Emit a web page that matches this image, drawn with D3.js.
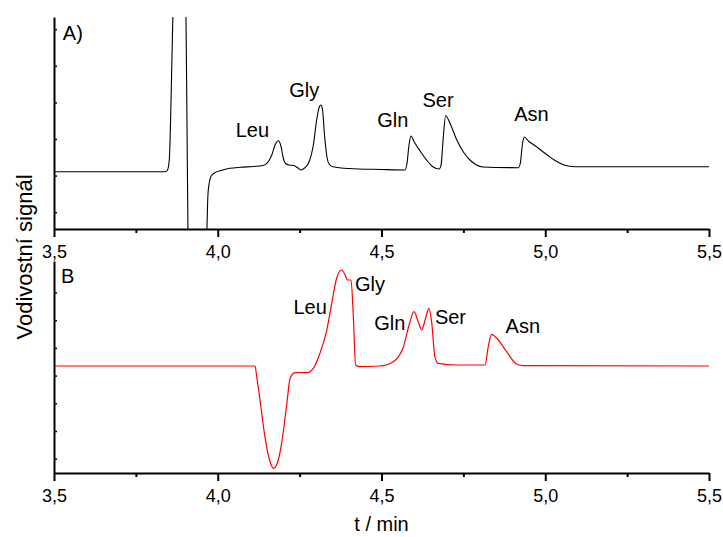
<!DOCTYPE html>
<html>
<head>
<meta charset="utf-8">
<script src="https://cdn.jsdelivr.net/npm/d3@7"></script>
<style>
  body { margin: 0; background: #fff; }
  svg { display: block; }
  text { font-family: "Liberation Sans", Arial, Helvetica, sans-serif; fill: #000; }
</style>
</head>
<body>
<svg id="chart" width="723" height="537"></svg>
<script>
// ---- data: conductivity traces (arbitrary signal units) ----
// Panel A (black trace)
const timesA = [3.500, 3.840, 3.846, 3.852, 3.856, 3.860, 3.864, 3.872, 3.884, 3.896, 3.900, 3.903, 3.906, 3.909,
  3.915, 3.935, 3.958, 3.967, 3.970, 3.974, 3.980, 3.990, 4.010, 4.037, 4.070, 4.110, 4.138, 4.150, 4.165, 4.175,
  4.185, 4.193, 4.200, 4.207, 4.218, 4.232, 4.245, 4.254, 4.265, 4.280, 4.292, 4.302, 4.310, 4.315, 4.320, 4.326,
  4.334, 4.340, 4.352, 4.400, 4.500, 4.572, 4.578, 4.584, 4.590, 4.600, 4.620, 4.640, 4.658, 4.676, 4.682, 4.688,
  4.696, 4.710, 4.730, 4.750, 4.770, 4.790, 4.810, 4.850, 4.918, 4.924, 4.930, 4.936, 4.950, 4.970, 4.990, 5.010,
  5.030, 5.050, 5.070, 5.090, 5.200, 5.500];
const signalA = [1.107, 1.107, 1.139, 1.426, 2.519, 4.158, 5.798, 9.896, 11.262, 9.896, 6.891, 5.333, 2.519, -0.459,
  -2.399, -3.219, -2.399, -0.459, 0.470, 0.798, 0.989, 1.071, 1.139, 1.199, 1.227, 1.249, 1.276, 1.331, 1.563, 1.836,
  1.954, 1.809, 1.481, 1.331, 1.290, 1.276, 1.208, 1.153, 1.208, 1.399, 1.836, 2.519, 2.874, 2.929, 2.792, 2.109,
  1.481, 1.317, 1.243, 1.194, 1.167, 1.153, 1.344, 1.836, 2.082, 1.918, 1.645, 1.399, 1.235, 1.180, 1.290, 1.973,
  2.637, 2.410, 1.973, 1.645, 1.426, 1.290, 1.235, 1.221, 1.216, 1.344, 1.836, 2.055, 1.932, 1.809, 1.672, 1.536,
  1.413, 1.317, 1.262, 1.243, 1.243, 1.243];

// Panel B (red trace)
const timesB = [3.500, 4.114, 4.119, 4.129, 4.144, 4.158, 4.165, 4.170, 4.176, 4.183, 4.195, 4.211, 4.221, 4.236,
  4.255, 4.272, 4.292, 4.312, 4.333, 4.348, 4.363, 4.378, 4.389, 4.396, 4.407, 4.414, 4.421, 4.434, 4.495, 4.536,
  4.567, 4.587, 4.599, 4.612, 4.623, 4.633, 4.645, 4.653, 4.663, 4.673, 4.730, 4.816, 4.826, 4.836, 4.852, 4.882,
  4.913, 4.933, 5.500];
const signalB = [3.347, 3.347, 2.960, 2.119, 0.794, -0.047, -0.275, -0.347, -0.300, -0.119, 0.556, 2.000, 2.903, 3.105,
  3.112, 3.105, 3.264, 3.805, 4.646, 5.610, 6.513, 6.812, 6.632, 6.451, 6.451, 5.126, 3.383, 3.321, 3.347, 3.502,
  4.043, 4.946, 5.307, 4.946, 4.646, 5.007, 5.430, 4.946, 3.682, 3.444, 3.383, 3.383, 4.043, 4.491, 4.347, 3.863,
  3.408, 3.357, 3.347];

// Peak annotations (text start time, baseline signal)
const peakNames = ["Leu", "Gly", "Gln", "Ser", "Asn"];
const labelTimesA = [4.055, 4.218, 4.487, 4.625, 4.905];
const labelSignalA = [2.063, 3.156, 2.336, 2.883, 2.492];
const labelTimesB = [4.231, 4.419, 4.478, 4.663, 4.879];
const labelSignalB = [5.213, 6.054, 4.646, 4.863, 4.527];

// Axis ticks
const xDomain = [3.5, 5.5];
const xMajorTicks = [3.5, 4.0, 4.5, 5.0, 5.5];
const xTickLabels = ["3,5", "4,0", "4,5", "5,0", "5,5"];
const xMinorTicks = [3.75, 4.25, 4.75, 5.25];
const yTicksA = [0, 1, 2, 3, 4, 5];
const yTicksB = [0, 1, 2, 3, 4, 5, 6];

// ---- layout ----
const svg = d3.select("#chart");
const left = 54, right = 709;
const x = d3.scaleLinear().domain(xDomain).range([left, right]);

const panels = [
  { id: "A", tag: "A)", tagT: 3.527, tagV: 4.705, top: 17, bottom: 229, yDomain: [-0.459, 5.333], yTicks: yTicksA,
    times: timesA, signal: signalA, lt: labelTimesA, lv: labelSignalA, color: "#000000", width: 1.1 },
  { id: "B", tag: "B", tagT: 3.521, tagV: 6.343, top: 261, bottom: 473, yDomain: [-0.516, 7.137], yTicks: yTicksB,
    times: timesB, signal: signalB, lt: labelTimesB, lv: labelSignalB, color: "#ff0000", width: 1.2 }
];

panels.forEach(p => {
  const y = d3.scaleLinear().domain(p.yDomain).range([p.bottom, p.top]);
  const g = svg.append("g");

  g.append("clipPath").attr("id", "clip" + p.id)
    .append("rect").attr("x", left).attr("y", p.top).attr("width", right - left).attr("height", p.bottom - p.top);

  const pts = p.times.map((t, i) => [t, p.signal[i]]);
  const line = d3.line().x(d => x(d[0])).y(d => y(d[1])).curve(d3.curveMonotoneX);
  g.append("path").datum(pts)
    .attr("clip-path", `url(#clip${p.id})`)
    .attr("d", line)
    .attr("fill", "none")
    .attr("stroke", p.color)
    .attr("stroke-width", p.width)
    .attr("stroke-linejoin", "round");

  // minor x ticks
  const minor = g.append("g").attr("transform", `translate(0,${p.bottom})`)
    .call(d3.axisBottom(x).tickValues(xMinorTicks).tickSize(4).tickFormat(""));
  minor.select(".domain").remove();
  minor.selectAll("line").attr("stroke", "#000").attr("stroke-width", 2);

  // major x ticks + labels
  const major = g.append("g").attr("transform", `translate(0,${p.bottom})`)
    .call(d3.axisBottom(x).tickValues(xMajorTicks).tickSize(8).tickSizeOuter(0)
      .tickFormat((d, i) => xTickLabels[i]));
  major.select(".domain").attr("stroke", "#000").attr("stroke-width", 2);
  major.selectAll(".tick line").attr("stroke", "#000").attr("stroke-width", 2);
  major.selectAll(".tick text")
    .attr("y", 29).attr("dy", null)
    .style("font-family", '"Liberation Sans", Arial, sans-serif')
    .style("font-size", "18px").attr("fill", "#000");

  // y axis with small inward ticks, no labels
  const ya = g.append("g").attr("transform", `translate(${left},0)`)
    .call(d3.axisLeft(y).tickValues(p.yTicks).tickSize(-3).tickSizeOuter(0).tickFormat(""));
  ya.select(".domain").attr("stroke", "#000").attr("stroke-width", 2);
  ya.selectAll(".tick line").attr("stroke", "#000").attr("stroke-width", 1.5);

  // panel tag
  g.append("text").attr("x", x(p.tagT)).attr("y", y(p.tagV))
    .style("font-size", "20px").text(p.tag);

  // peak names
  peakNames.forEach((name, i) => {
    g.append("text").attr("x", x(p.lt[i])).attr("y", y(p.lv[i]))
      .style("font-size", "20px").text(name);
  });
});

// axis titles
svg.append("text").attr("x", (353 + 410) / 2).attr("y", 531)
  .attr("text-anchor", "middle").style("font-size", "20px").text("t / min");
svg.append("text")
  .attr("transform", "translate(32,257) rotate(-90)")
  .attr("text-anchor", "middle").style("font-size", "22px").text("Vodivostní signál");
</script>
</body>
</html>
